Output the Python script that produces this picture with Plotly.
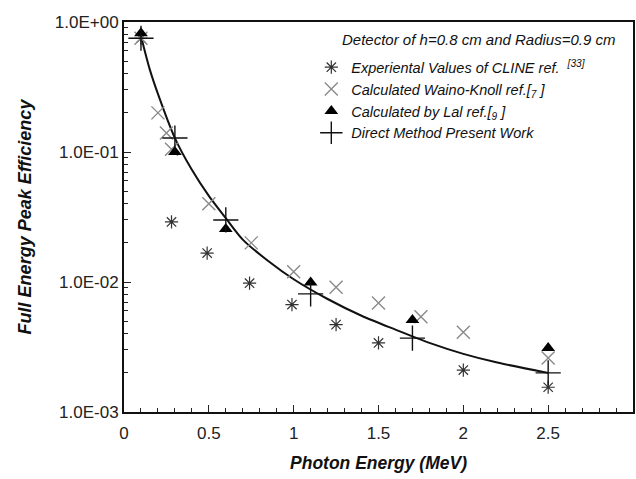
import plotly.graph_objects as go

# ---- data ----
cline_x = [0.1, 0.28, 0.49, 0.74, 0.99, 1.25, 1.5, 2.0, 2.5]
cline_y = [0.75, 0.029, 0.0167, 0.0098, 0.0067, 0.0047, 0.0034, 0.0021, 0.00155]

wk_x = [0.1, 0.2, 0.25, 0.28, 0.5, 0.75, 1.0, 1.25, 1.5, 1.75, 2.0, 2.5]
wk_y = [0.75, 0.20, 0.14, 0.105, 0.040, 0.020, 0.012, 0.0091, 0.0069, 0.0054, 0.0041, 0.0026]

lal_x = [0.1, 0.3, 0.6, 1.1, 1.7, 2.5]
lal_y = [0.82, 0.10, 0.0256, 0.0099, 0.0051, 0.0031]

dm_x = [0.1, 0.3, 0.6, 1.1, 1.7, 2.5]
dm_y = [0.75, 0.128, 0.030, 0.0081, 0.0037, 0.0020]

curve_x = [0.1, 0.15, 0.2, 0.3, 0.4, 0.5, 0.6, 0.7, 0.85, 1.0, 1.2, 1.4, 1.6, 1.8, 2.0, 2.2, 2.5]
curve_y = [0.78, 0.44, 0.28, 0.128, 0.073, 0.046, 0.031, 0.0212, 0.0145, 0.0105, 0.0074, 0.0055, 0.0043, 0.0034, 0.0028, 0.0024, 0.0020]

y_tickvals = [1e-3, 1e-2, 1e-1, 1.0]
y_ticktext = ["1.0E-03", "1.0E-02", "1.0E-01", "1.0E+00"]
x_tickvals = [0, 0.5, 1, 1.5, 2, 2.5, 3]
x_ticktext = ["0", "0.5", "1", "1.5", "2", "2.5", "3"]

legend_title = "Detector of h=0.8 cm and Radius=0.9 cm"

FONT = "Arial, 'Liberation Sans', sans-serif"

fig = go.Figure()
fig.add_trace(go.Scatter(x=curve_x, y=curve_y, mode="lines", line=dict(color="#111", width=2, shape="spline", smoothing=0.8),
                         showlegend=False, hoverinfo="skip"))
fig.add_trace(go.Scatter(x=cline_x, y=cline_y, mode="markers", name="Experiental Values of CLINE ref.  <sup>[33]</sup>",
                         marker=dict(symbol="asterisk-open", size=11, color="#333", line=dict(color="#333", width=1.2))))
fig.add_trace(go.Scatter(x=wk_x, y=wk_y, mode="markers", name="Calculated Waino-Knoll ref.[<sub>7</sub> ]",
                         marker=dict(symbol="x-thin-open", size=13, color="#8a8a8a", line=dict(color="#8a8a8a", width=1.4))))
fig.add_trace(go.Scatter(x=lal_x, y=lal_y, mode="markers", name="Calculated by Lal ref.[<sub>9</sub> ]",
                         marker=dict(symbol="triangle-up", size=12, color="#000")))
fig.add_trace(go.Scatter(x=dm_x, y=dm_y, mode="markers", name="Direct Method Present Work",
                         marker=dict(symbol="cross-thin-open", size=18, color="#111", line=dict(color="#111", width=1.4))))

minor_y = [m * 10 ** e for e in (-3, -2, -1) for m in range(2, 10)]

fig.add_annotation(x=0.425, y=0.954, xref="paper", yref="paper", xanchor="left", yanchor="middle",
                   text=legend_title, showarrow=False,
                   font=dict(family=FONT, size=15, style="italic", color="#111"))

fig.update_layout(
    width=636, height=479,
    margin=dict(l=124, r=1, t=22, b=67),
    paper_bgcolor="white", plot_bgcolor="white",
    font=dict(family=FONT, color="#222", size=14),
    legend=dict(
        x=0.368, y=0.925, xanchor="left", yanchor="top",
        bgcolor="rgba(255,255,255,0)",
        font=dict(family=FONT, size=14.5, style="italic", color="#111"),
        itemwidth=30, tracegroupgap=0,
    ),
    xaxis=dict(
        range=[0, 3], tickmode="array", tickvals=x_tickvals, ticktext=x_ticktext,
        ticks="inside", ticklen=7, tickwidth=1, tickcolor="#222",
        showline=True, linecolor="#111", linewidth=2, mirror=True,
        showgrid=False, zeroline=False, ticklabelstandoff=5,
        minor=dict(tickmode="linear", tick0=0, dtick=0.1, ticks="inside", ticklen=4, tickcolor="#222", showgrid=False),
        tickfont=dict(size=17, color="#222"),
        title=dict(text="<b><i>Photon Energy (MeV)</i></b>", font=dict(size=17.5, color="#111"), standoff=14),
    ),
    yaxis=dict(
        type="log", range=[-3, 0], tickmode="array", tickvals=y_tickvals, ticktext=y_ticktext,
        ticks="inside", ticklen=7, tickwidth=1, tickcolor="#222",
        showline=True, linecolor="#111", linewidth=2, mirror=True,
        showgrid=False, zeroline=False,
        minor=dict(tickmode="array", tickvals=minor_y, ticks="inside", ticklen=4, tickcolor="#222", showgrid=False),
        tickfont=dict(size=17, color="#222"),
        title=dict(text="<b><i>Full Energy Peak Efficiency</i></b>", font=dict(size=18, color="#111"), standoff=18),
    ),
)

fig.write_html("out.html")
